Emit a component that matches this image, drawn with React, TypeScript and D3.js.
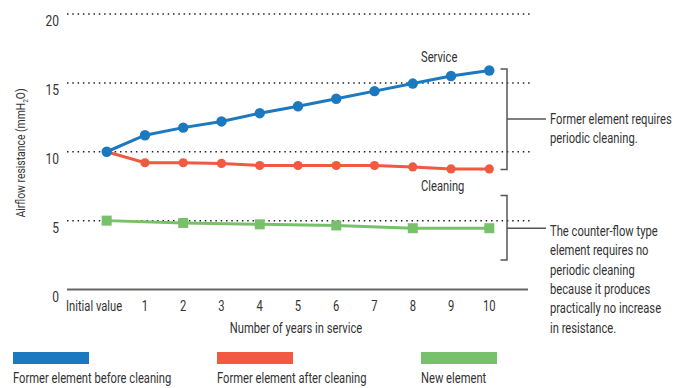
import React from "react";
import * as d3 from "d3";

const categories = ["Initial value", "1", "2", "3", "4", "5", "6", "7", "8", "9", "10"];
const beforeCleaning = [10.0, 11.2, 11.75, 12.2, 12.8, 13.3, 13.85, 14.4, 14.95, 15.5, 15.9];
const afterCleaning = [10.0, 9.2, 9.2, 9.15, 9.0, 9.0, 9.0, 9.0, 8.9, 8.75, 8.75];
const newElement: (number | null)[] = [5.0, null, 4.83, null, 4.73, null, 4.65, null, 4.45, null, 4.45];
const yTicks = [0, 5, 10, 15, 20];
const legendLabels = ["Former element before cleaning", "Former element after cleaning", "New element"];
const noteTop = ["Former element requires", "periodic cleaning."];
const noteBottom = [
  "The counter-flow type",
  "element requires no",
  "periodic cleaning",
  "because it produces",
  "practically no increase",
  "in resistance.",
];

const BLUE = "#1b79bf";
const RED = "#f15a40";
const GREEN = "#78c16b";
const TEXT = "#333";
const FONT = "Roboto, 'Noto Sans', sans-serif";
const SX = 0.8;

function T({
  x,
  y,
  children,
  anchor = "start",
  size = 14,
  rotate = 0,
}: {
  x: number;
  y: number;
  children: React.ReactNode;
  anchor?: string;
  size?: number;
  rotate?: number;
}) {
  return (
    <text
      transform={`translate(${x},${y})${rotate ? ` rotate(${rotate})` : ""} scale(${SX},1)`}
      textAnchor={anchor}
      fontSize={size}
      fill={TEXT}
    >
      {children}
    </text>
  );
}

export default function App() {
  const x = d3.scalePoint<string>().domain(categories).range([106.7, 489.3]);
  const y = d3.scaleLinear().domain([0, 20]).range([289.5, 14]);

  const line = d3
    .line<number>()
    .x((_, i) => x(categories[i])!)
    .y((d) => y(d));

  const greenPts = newElement
    .map((v, i) => ({ v, c: categories[i] }))
    .filter((d) => d.v !== null) as { v: number; c: string }[];
  const greenLine = d3
    .line<{ v: number; c: string }>()
    .x((d) => x(d.c)!)
    .y((d) => y(d.v));

  const legendColors = [BLUE, RED, GREEN];
  const legendX = [13, 217, 421];

  return (
    <svg
      width={688}
      height={388}
      style={{ position: "absolute", left: 0, top: 0, background: "#fff" }}
      fontFamily={FONT}
    >
      {/* grid lines */}
      {yTicks
        .filter((t) => t > 0)
        .map((t) => (
          <line
            key={t}
            x1={67}
            x2={530}
            y1={y(t)}
            y2={y(t)}
            stroke="#222"
            strokeWidth={1.5}
            strokeDasharray="1.5,3.8"
          />
        ))}
      {/* x axis line */}
      <line x1={67} x2={528} y1={y(0)} y2={y(0)} stroke="#666" strokeWidth={2} />

      {/* y tick labels */}
      {yTicks.map((t) => (
        <T key={t} x={59} y={y(t) + 12} anchor="end" size={15}>
          {t}
        </T>
      ))}

      {/* x tick labels */}
      {categories.map((c, i) => (
        <T key={c} x={i === 0 ? 66 : x(c)!} y={311} anchor={i === 0 ? "start" : "middle"}>
          {c}
        </T>
      ))}

      {/* axis titles */}
      <T x={296} y={333} anchor="middle">
        Number of years in service
      </T>
      <T x={25} y={153} anchor="middle" size={13} rotate={-90}>
        Airflow resistance (mmH
        <tspan fontSize={8} dy={3}>2</tspan>
        <tspan dy={-3}>O)</tspan>
      </T>

      {/* series */}
      <path d={line(afterCleaning)!} fill="none" stroke={RED} strokeWidth={3} />
      {afterCleaning.map((v, i) => (
        <circle key={"r" + i} cx={x(categories[i])!} cy={y(v)} r={4.6} fill={RED} />
      ))}
      <path d={line(beforeCleaning)!} fill="none" stroke={BLUE} strokeWidth={3} />
      {beforeCleaning.map((v, i) => (
        <circle key={"b" + i} cx={x(categories[i])!} cy={y(v)} r={5.2} fill={BLUE} />
      ))}
      <path d={greenLine(greenPts)!} fill="none" stroke={GREEN} strokeWidth={3} />
      {greenPts.map((d) => (
        <rect key={"g" + d.c} x={x(d.c)! - 5} y={y(d.v) - 5} width={10} height={10} fill={GREEN} />
      ))}

      {/* annotations */}
      <T x={421} y={62}>Service</T>
      <T x={421} y={191}>Cleaning</T>

      {/* brackets */}
      <g stroke="#555" strokeWidth={1.5} fill="none">
        <path d={`M500.5,${y(beforeCleaning[10]) - 1.5}H507V${y(afterCleaning[10]) + 0.5}H500.5`} />
        <line x1={507} x2={546} y1={119} y2={119} />
        <path d="M500.5,195.5H507V260H500.5" />
        <line x1={507} x2={546} y1={228.3} y2={228.3} />
      </g>

      {noteTop.map((t, i) => (
        <T key={t} x={550} y={123.5 + i * 19.3}>
          {t}
        </T>
      ))}
      {noteBottom.map((t, i) => (
        <T key={t} x={550} y={236 + i * 19.3}>
          {t}
        </T>
      ))}

      {/* legend */}
      {legendLabels.map((l, i) => (
        <g key={l}>
          <rect x={legendX[i]} y={352} width={76} height={12} fill={legendColors[i]} />
          <T x={legendX[i]} y={383}>
            {l}
          </T>
        </g>
      ))}
    </svg>
  );
}
